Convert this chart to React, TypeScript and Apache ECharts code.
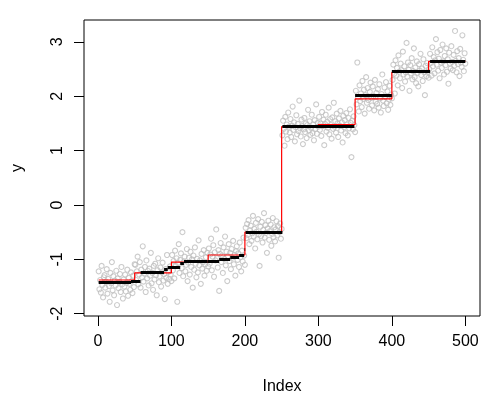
import React, { useEffect, useRef } from "react";
import * as echarts from "echarts";

// Observed y values (index 1..500), read segment by segment
const seg1 = [-1.22,-1.55,-1.38,-1.61,-1.12,-1.47,-1.70,-1.33,-1.29,-1.52,-1.41,-1.18,-1.63,-1.36,-1.49,-1.78,-1.25,-1.44,-1.05,-1.57,-1.31,-1.66,-1.39,-1.48,-1.21,-1.84,-1.35,-1.53,-1.42,-1.27,-1.60,-1.14,-1.46,-1.72,-1.37,-1.50,-1.28,-1.59,-1.43,-1.19,-1.67,-1.34,-1.45,-1.56,-1.24,-1.40,-1.62,-1.30,-1.51,-1.09];
const seg2 = [-1.10,-1.38,-1.22,-0.95,-1.46,-1.28,-1.05,-1.52,-1.19,-1.33,-0.76,-1.41,-1.26,-1.14,-1.60,-1.02,-1.35,-1.21,-1.48,-1.17,-1.30,-0.88,-1.44,-1.25,-1.56,-1.12,-1.37,-1.08,-1.29,-1.66,-1.20,-0.98,-1.42,-1.31,-1.15,-1.50,-1.24,-1.06,-1.39,-1.27,-1.73,-1.18,-1.34,-0.92,-1.45,-1.23,-1.36,-1.13,-1.28,-1.40];
const seg3 = [-0.92,-1.20,-1.03,-1.35,-0.84,-1.12,-0.98,-1.78,-1.07,-0.72,-1.25,-1.01,-0.89,-1.16,-0.50,-1.31,-1.04,-0.95,-1.22,-1.10,-0.81,-1.40,-1.06,-0.97,-1.28,-0.86,-1.14,-1.00,-1.52,-0.93,-1.19,-0.78,-1.08,-1.33,-0.99,-1.24,-0.65,-1.11,-1.02,-1.45,-0.90,-1.17,-1.05,-0.83,-1.30,-1.09,-0.96,-1.21,-0.88,-1.13];
const seg4 = [-0.80,-1.08,-0.91,-0.62,-1.20,-0.95,-0.74,-1.32,-0.87,-1.02,-0.45,-0.98,-1.15,-0.83,-1.58,-0.90,-0.70,-1.05,-0.93,-1.25,-0.78,-0.99,-0.58,-1.11,-0.86,-1.40,-0.94,-0.72,-1.03,-0.88,-1.18,-0.81,-0.97,-0.66,-1.09,-0.92,-1.30,-0.85,-0.76,-1.01,-0.89,-1.14,-0.69,-0.96,-1.22,-0.84,-1.04,-0.60,-0.93,-1.10];
const seg5 = [-0.42,-0.61,-0.35,-0.55,-0.28,-0.72,-0.47,-0.38,-0.66,-0.52,-0.20,-0.58,-0.44,-0.80,-0.33,-0.49,-0.63,-0.26,-0.54,-1.12,-0.40,-0.57,-0.31,-0.69,-0.46,-0.15,-0.60,-0.37,-0.51,-0.88,-0.43,-0.29,-0.64,-0.48,-0.36,-0.75,-0.53,-0.24,-0.59,-0.41,-0.67,-0.45,-0.30,-0.56,-0.39,-0.97,-0.50,-0.34,-0.62,-0.44];
const seg6 = [1.28,1.55,1.40,1.09,1.62,1.35,1.48,1.21,1.70,1.44,1.33,1.58,1.25,1.46,1.81,1.38,1.52,1.17,1.43,1.65,1.30,1.49,1.36,1.92,1.41,1.26,1.57,1.45,1.12,1.39,1.60,1.34,1.50,1.23,1.47,1.75,1.37,1.54,1.29,1.42,1.66,1.32,1.48,1.19,1.56,1.40,1.85,1.31,1.51,1.44];
const seg7 = [1.62,1.38,1.50,1.27,1.71,1.45,1.57,1.10,1.49,1.66,1.35,1.53,1.42,1.79,1.30,1.58,1.47,1.22,1.61,1.40,1.88,1.44,1.54,1.33,1.68,1.50,1.25,1.59,1.46,1.73,1.37,1.52,1.15,1.64,1.43,1.56,1.32,1.69,1.48,1.28,1.60,1.41,1.76,1.51,0.88,1.55,1.39,1.63,1.47,1.34];
const seg8 = [2.10,1.85,2.62,1.98,1.72,2.20,1.91,2.05,1.80,2.28,1.95,2.12,1.68,2.02,2.35,1.88,2.15,1.93,1.77,2.08,2.25,1.97,1.83,2.18,2.00,1.74,2.30,1.90,2.06,1.86,2.13,1.79,2.22,1.96,1.70,2.04,2.40,1.92,1.82,2.16,1.99,2.26,1.87,2.09,1.75,1.94,2.19,1.84,2.03,1.96];
const seg9 = [2.30,2.58,2.41,2.05,2.66,2.38,2.52,2.20,2.75,2.45,2.33,2.60,2.48,2.15,2.82,2.40,2.55,2.27,2.44,2.98,2.36,2.62,2.49,2.10,2.57,2.42,2.70,2.31,2.46,2.88,2.35,2.53,2.24,2.64,2.43,2.18,2.59,2.47,2.78,2.39,2.51,2.28,2.68,2.44,2.02,2.56,2.37,2.61,2.45,2.34];
const seg10 = [2.50,2.78,2.61,2.38,2.90,2.55,2.72,2.42,2.66,3.05,2.58,2.81,2.47,2.69,2.33,2.85,2.62,2.52,2.95,2.64,2.40,2.74,2.57,2.88,2.45,2.68,2.23,2.80,2.60,2.51,2.92,2.63,2.48,2.76,2.56,3.20,2.65,2.44,2.83,2.59,2.70,2.37,2.87,2.62,2.54,3.12,2.67,2.46,2.79,2.60];

// Red step fit: breakpoints and levels
const redBreaks = [1, 50, 100, 150, 200, 250, 300, 350, 400, 450, 500];
const redLevels = [-1.38, -1.25, -1.05, -0.92, -0.50, 1.44, 1.48, 1.95, 2.44, 2.64];

// Black segments: start, end, level
const blackStart = [1, 45, 58, 90, 95, 112, 117, 149, 165, 180, 192, 199.6, 201, 251, 350, 400, 452];
const blackEnd = [45, 58, 90, 95, 112, 117, 149, 165, 180, 192, 199, 200.4, 251, 349, 400, 452, 500];
const blackLevels = [-1.43, -1.40, -1.24, -1.19, -1.14, -1.08, -1.04, -1.03, -1.00, -0.97, -0.93, -0.81, -0.51, 1.44, 2.02, 2.45, 2.64];

const xTicks = [0, 100, 200, 300, 400, 500];
const yTicks = [-2, -1, 0, 1, 2, 3];

export default function App() {
  const ref = useRef<HTMLDivElement>(null);
  useEffect(() => {
    if (!ref.current) return;
    const chart = echarts.init(ref.current, null, { renderer: "svg" });
    const yAll = [...seg1, ...seg2, ...seg3, ...seg4, ...seg5, ...seg6, ...seg7, ...seg8, ...seg9, ...seg10];
    const pts = yAll.map((v, i) => [i + 1, v]);
    const n = yAll.length;
    const yMin = Math.min(...yAll);
    const yMax = Math.max(...yAll);
    const xPad = (n - 1) * 0.04;
    const yPad = (yMax - yMin) * 0.04;

    const redData: number[][] = [];
    redLevels.forEach((lv, i) => {
      redData.push([redBreaks[i], lv]);
      redData.push([redBreaks[i + 1], lv]);
    });
    const blackData = blackLevels.map((lv, i) => ({
      coords: [[blackStart[i], lv], [blackEnd[i], lv]],
    }));

    const font = "Liberation Sans, Arial, Helvetica, sans-serif";
    chart.setOption({
      animation: false,
      grid: {
        left: 83, right: 20, top: 20, bottom: 84,
        show: true, borderColor: "#000", borderWidth: 1, backgroundColor: "transparent",
      },
      xAxis: {
        type: "value",
        min: 1 - xPad, max: n + xPad,
        name: "Index", nameLocation: "middle", nameGap: 61,
        nameTextStyle: { fontFamily: font, fontSize: 16, color: "#000" },
        axisLine: { show: false, onZero: false },
        splitLine: { show: false },
        axisTick: { show: true, length: 10, lineStyle: { color: "#000" }, customValues: xTicks },
        axisLabel: { show: true, margin: 16, fontFamily: font, fontSize: 16, color: "#000", customValues: xTicks },
      },
      yAxis: {
        type: "value",
        min: yMin - yPad, max: yMax + yPad,
        name: "y", nameLocation: "middle", nameGap: 60, nameRotate: 90,
        nameTextStyle: { fontFamily: font, fontSize: 16, color: "#000" },
        axisLine: { show: false, onZero: false },
        splitLine: { show: false },
        axisTick: { show: true, length: 10, lineStyle: { color: "#000" }, customValues: yTicks },
        axisLabel: { show: true, margin: 20, rotate: 90, fontFamily: font, fontSize: 16, color: "#000", customValues: yTicks },
      },
      series: [
        {
          type: "scatter",
          data: pts,
          symbol: "circle",
          symbolSize: 5,
          itemStyle: { color: "rgba(0,0,0,0)", borderColor: "#BEBEBE", borderWidth: 1.1 },
          silent: true,
          z: 1,
        },
        {
          type: "line",
          data: redData,
          showSymbol: false,
          lineStyle: { color: "#FF0000", width: 1.2 },
          z: 2,
        },
        {
          type: "lines",
          coordinateSystem: "cartesian2d",
          data: blackData,
          lineStyle: { color: "#000", width: 3, opacity: 1, cap: "butt" },
          z: 3,
        },
      ],
    });
    return () => chart.dispose();
  }, []);
  return (
    <div style={{ position: "fixed", left: 0, top: 0, width: 500, height: 400 }}>
      <div ref={ref} style={{ width: 500, height: 400 }} />
    </div>
  );
}
